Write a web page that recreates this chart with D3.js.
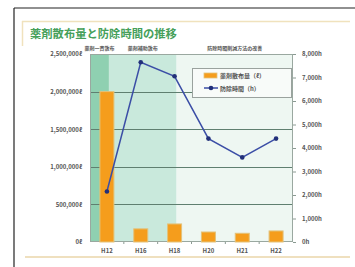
<!DOCTYPE html>
<html><head><meta charset="utf-8">
<script src="https://cdn.jsdelivr.net/npm/d3@7/dist/d3.min.js"></script>
<style>html,body{margin:0;padding:0;background:#fff;}svg{display:block;}</style>
</head><body>
<script>
const categories = ["H12","H16","H18","H20","H21","H22"];
const sprayVolume = [2000000, 175000, 240000, 133000, 116000, 147000];
const controlHours = [2150, 7650, 7050, 4400, 3600, 4400];
const leftTicks = [0, 500000, 1000000, 1500000, 2000000, 2500000];
const rightTicks = [0,1000,2000,3000,4000,5000,6000,7000,8000];
const phaseLabels = ["薬剤一斉散布","薬剤補助散布","防除時間削減方法の改善"];
const phaseEnds = ["H12","H18","H22"];
const legendLabels = ["薬剤散布量（ℓ）","防除時間（h）"];
const title = "薬剤散布量と防除時間の推移";

const W=355,H=267;
const svg=d3.select("body").append("svg").attr("width",W).attr("height",H);
const L=90,R=293,T=54,B=242;
const x=d3.scaleBand().domain(categories).range([L,R]);
const yL=d3.scaleLinear().domain([0,2500000]).range([B,T]);
const yR=d3.scaleLinear().domain([0,8000]).range([B,T]);
const font="'Noto Sans CJK JP','Noto Sans',sans-serif";

// frame
svg.append("line").attr("x1",14).attr("x2",W).attr("y1",8).attr("y2",8).attr("stroke","#222").attr("stroke-width",1.2);
svg.append("line").attr("x1",14).attr("x2",14).attr("y1",8).attr("y2",H).attr("stroke","#222").attr("stroke-width",1.2);
// decorative beige lines
svg.append("line").attr("x1",22).attr("x2",350).attr("y1",21.5).attr("y2",21.5).attr("stroke","#f0e2bd").attr("stroke-width",1.5);
svg.append("line").attr("x1",22.5).attr("x2",22.5).attr("y1",21).attr("y2",46).attr("stroke","#f0e2bd").attr("stroke-width",1.5);
svg.append("line").attr("x1",25).attr("x2",350).attr("y1",257).attr("y2",257).attr("stroke","#ead6aa").attr("stroke-width",1.5);

// title
svg.append("text").attr("x",30).attr("y",38).attr("font-family",font).attr("font-weight","bold")
  .attr("font-size",11.3).attr("fill","#46a05a").text(title);

// phase bands
const bandColors=["#8fd0b1","#c9e9dc","#eef7f2"];
let start=L;
phaseEnds.forEach((e,i)=>{
  const end = i===phaseEnds.length-1 ? R : x(e)+x.bandwidth()/2+2;
  svg.append("rect").attr("x",start).attr("y",T).attr("width",end-start).attr("height",B-T).attr("fill",bandColors[i]);
  svg.append("text").attr("x",(start+end)/2).attr("y",T-4).attr("text-anchor","middle")
    .attr("font-family",font).attr("font-size",5).attr("font-weight","bold").attr("fill","#555").text(phaseLabels[i]);
  start=end;
});

// grid
svg.append("g").selectAll("line").data(leftTicks.slice(1,-1)).join("line")
  .attr("x1",L).attr("x2",R).attr("y1",d=>Math.round(yL(d))+0.5).attr("y2",d=>Math.round(yL(d))+0.5)
  .attr("stroke","#5f7f70").attr("stroke-width",1);
// plot border
svg.append("rect").attr("x",L+0.5).attr("y",T+0.5).attr("width",R-L-1).attr("height",B-T-1)
  .attr("fill","none").attr("stroke","#9aa8a0").attr("stroke-width",1);

// bars
const bw=14;
svg.append("g").selectAll("rect").data(sprayVolume).join("rect")
  .attr("x",(d,i)=>x(categories[i])+x.bandwidth()/2-bw/2).attr("width",bw)
  .attr("y",d=>yL(d)).attr("height",d=>B-yL(d))
  .attr("fill","#f59d1c").attr("stroke","#e3c27a").attr("stroke-width",1);

// line
const line=d3.line().x((d,i)=>x(categories[i])+x.bandwidth()/2).y(d=>yR(d));
svg.append("path").datum(controlHours).attr("d",line).attr("fill","none").attr("stroke","#3b4ea6").attr("stroke-width",1.5);
svg.append("g").selectAll("circle").data(controlHours).join("circle")
  .attr("cx",(d,i)=>x(categories[i])+x.bandwidth()/2).attr("cy",d=>yR(d)).attr("r",2.3).attr("fill","#22307a");

// axes
const axL=d3.axisLeft(yL).tickValues(leftTicks).tickSize(0).tickPadding(8)
  .tickFormat(d=>d3.format(",")(d)+"ℓ");
const gL=svg.append("g").attr("transform",`translate(${L},0)`).call(axL);
const axR=d3.axisRight(yR).tickValues(rightTicks).tickSize(3).tickPadding(6)
  .tickFormat(d=>d3.format(",")(d)+"h");
const gR=svg.append("g").attr("transform",`translate(${R},0)`).call(axR);
const axB=d3.axisBottom(x).tickSize(0).tickPadding(7);
const gB=svg.append("g").attr("transform",`translate(0,${B})`).call(axB);
[gL,gR,gB].forEach(g=>{
  g.select(".domain").remove();
  g.selectAll("text").attr("font-family",font).attr("font-size",6).attr("font-weight","bold").attr("fill","#555");
  g.selectAll("line").attr("stroke","#8a9a92");
});
// small x tick marks between categories
svg.append("g").selectAll("line").data(categories.slice(1)).join("line")
  .attr("x1",d=>x(d)).attr("x2",d=>x(d)).attr("y1",B).attr("y2",B+2).attr("stroke","#8a9a92");

// legend
const lx=192, ly=68, lw=99, lh=29;
svg.append("rect").attr("x",lx+0.5).attr("y",ly+0.5).attr("width",lw).attr("height",lh)
  .attr("fill","#f8fbf9").attr("stroke","#9aa29e");
svg.append("rect").attr("x",lx+12).attr("y",ly+5).attr("width",13).attr("height",5)
  .attr("fill","#f59d1c").attr("stroke","#e3c27a").attr("stroke-width",0.8);
svg.append("line").attr("x1",lx+12).attr("x2",lx+26).attr("y1",ly+20).attr("y2",ly+20).attr("stroke","#3b4ea6").attr("stroke-width",1.5);
svg.append("circle").attr("cx",lx+19).attr("cy",ly+20).attr("r",2.3).attr("fill","#22307a");
legendLabels.forEach((t,i)=>{
  svg.append("text").attr("x",lx+28).attr("y",ly+10+i*13).attr("font-family",font)
    .attr("font-size",6).attr("font-weight","bold").attr("fill","#555").text(t);
});
</script>
</body></html>
